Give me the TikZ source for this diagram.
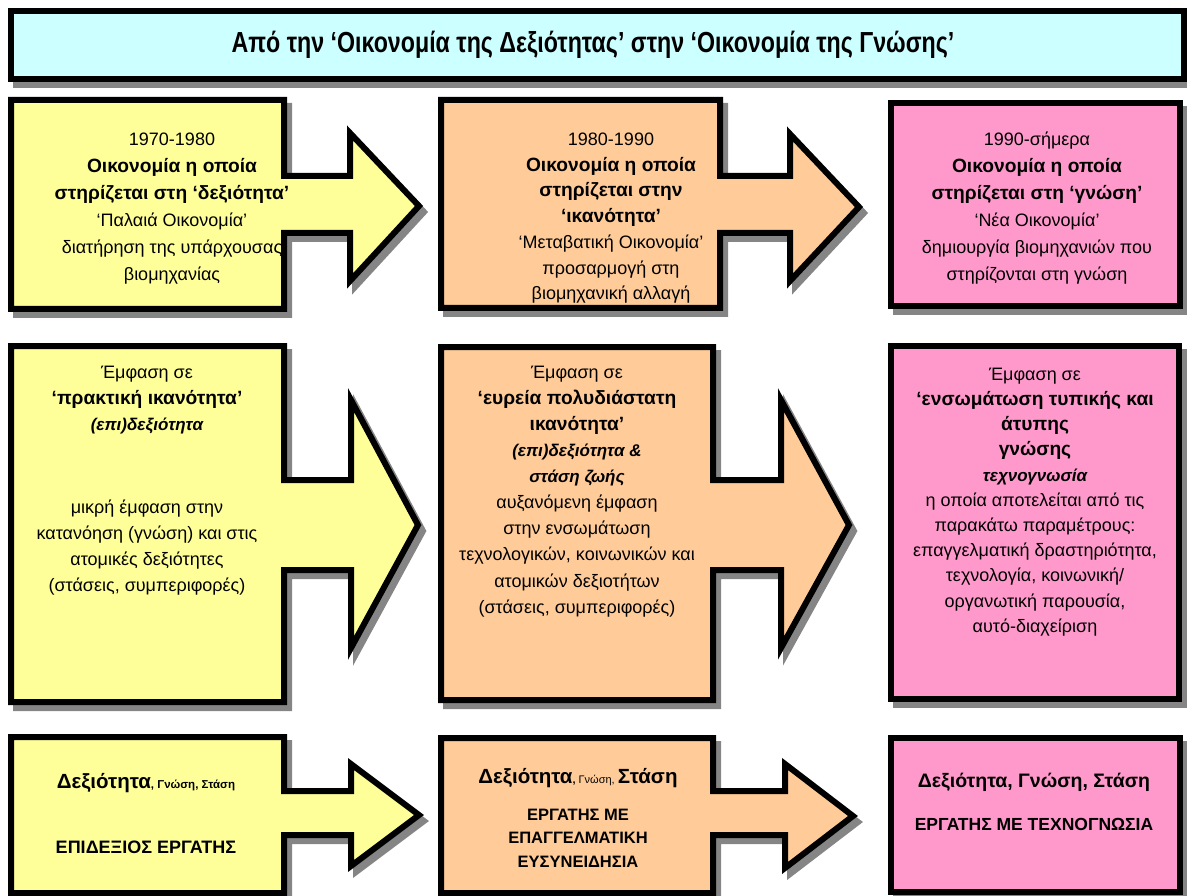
\documentclass[tikz,border=0pt]{standalone}
\usepackage{fontspec}
\setmainfont{Liberation Sans}
\newfontfamily\titlefont[FakeStretch=0.8]{Liberation Sans}
\usetikzlibrary{shadows}
\definecolor{cyanbg}{HTML}{CCFFFF}
\definecolor{yelbg}{HTML}{FFFF99}
\definecolor{orabg}{HTML}{FFCC99}
\definecolor{pinkbg}{HTML}{FF99CC}
\definecolor{shadowgray}{HTML}{858585}
\newcommand\bi[1]{{\bfseries\itshape\fontsize{17}{10}\selectfont #1}}
\newcommand\bt[1]{{\bfseries\fontsize{19.2}{10}\selectfont #1}}
\newcommand\fs[1]{\fontsize{#1}{10}\selectfont}
\begin{document}
\begin{tikzpicture}[x=1pt,y=-1pt,
  shp/.style={draw=black, line width=6pt, line join=miter, fill=#1,
    drop shadow={shadow xshift=5pt, shadow yshift=-6pt, opacity=1,
      fill=shadowgray, draw=shadowgray, line width=6pt}},
  txt/.style={inner sep=0pt, align=center, anchor=north},
]
\useasboundingbox (0,0) rectangle (1187,896);
% title
\path[shp=cyanbg] (11,11) rectangle (1184,79);
\node[inner sep=0pt, anchor=base, font=\titlefont\bfseries\fontsize{29}{30}\selectfont] (title) at (593,53)
  {Από την ‘Οικονομία της Δεξιότητας’ στην ‘Οικονομία της Γνώσης’};
% row 1
\path[shp=yelbg] (11,100) -- (284,100) -- (284,176) -- (350,176) -- (350,133) -- (419,206)
  -- (350,281) -- (350,233) -- (284,233) -- (284,309) -- (11,309) -- cycle;
\path[shp=orabg] (441,100) -- (720,100) -- (720,176) -- (790,176) -- (790,134) -- (859,207)
  -- (790,281) -- (790,233) -- (720,233) -- (720,308) -- (441,308) -- cycle;
\path[shp=pinkbg] (891,103) rectangle (1180,306);
% row 2
\path[shp=yelbg] (11,346) -- (284,346) -- (284,480) -- (351,480) -- (351,400) -- (418,525)
  -- (351,648) -- (351,570) -- (284,570) -- (284,702) -- (11,702) -- cycle;
\path[shp=orabg] (441,347) -- (713,347) -- (713,480) -- (781,480) -- (781,400) -- (849,525)
  -- (781,648) -- (781,570) -- (713,570) -- (713,700) -- (441,700) -- cycle;
\path[shp=pinkbg] (891,346) rectangle (1179,699);
% row 3
\path[shp=yelbg] (11,737) -- (284,737) -- (284,791) -- (351,791) -- (351,764) -- (419,815)
  -- (351,866) -- (351,835) -- (284,835) -- (284,893) -- (11,893) -- cycle;
\path[shp=orabg] (441,738) -- (713,738) -- (713,791) -- (785,791) -- (785,764) -- (853,816)
  -- (785,868) -- (785,835) -- (713,835) -- (713,893) -- (441,893) -- cycle;
\path[shp=pinkbg] (891,738) rectangle (1180,892);
% texts row 1
\node[txt, font=\fontsize{18}{27}\selectfont] (t11) at (172,125)
  {\rule{0pt}{20pt}1970-1980\\
   \bt{Οικονομία η οποία}\\
   \bt{στηρίζεται στη ‘δεξιότητα’}\\
   ‘Παλαιά Οικονομία’\\
   διατήρηση της υπάρχουσας\\
   βιομηχανίας};
\node[txt, font=\fontsize{18}{25.8}\selectfont] (t12) at (611,125)
  {\rule{0pt}{20pt}1980-1990\\
   \bt{Οικονομία η οποία}\\
   \bt{στηρίζεται στην}\\
   \bt{‘ικανότητα’}\\
   ‘Μεταβατική Οικονομία’\\
   προσαρμογή στη\\
   βιομηχανική αλλαγή};
\node[txt, font=\fontsize{18}{27}\selectfont] (t13) at (1037,125)
  {\rule{0pt}{20pt}1990-σήμερα\\
   \bt{Οικονομία η οποία}\\
   \bt{στηρίζεται στη ‘γνώση’}\\
   ‘Νέα Οικονομία’\\
   δημιουργία βιομηχανιών που\\
   στηρίζονται στη γνώση};
% texts row 2
\node[txt, font=\fontsize{18}{26}\selectfont] (t21) at (147,358)
  {\rule{0pt}{20pt}Έμφαση σε\\
   \bt{‘πρακτική ικανότητα’}\\
   \bi{(επι)δεξιότητα}\\[57pt]
   μικρή έμφαση στην\\
   κατανόηση (γνώση) και στις\\
   ατομικές δεξιότητες\\
   (στάσεις, συμπεριφορές)};
\node[txt, font=\fontsize{18}{26.1}\selectfont] (t22) at (577,358)
  {\rule{0pt}{20pt}Έμφαση σε\\
   \bt{‘ευρεία πολυδιάστατη}\\
   \bt{ικανότητα’}\\
   \bi{(επι)δεξιότητα \&}\\
   \bi{στάση ζωής}\\
   αυξανόμενη έμφαση\\
   στην ενσωμάτωση\\
   τεχνολογικών, κοινωνικών και\\
   ατομικών δεξιοτήτων\\
   (στάσεις, συμπεριφορές)};
\node[txt, font=\fontsize{18}{25.2}\selectfont] (t23) at (1035,360)
  {\rule{0pt}{20pt}Έμφαση σε\\
   \bt{‘ενσωμάτωση τυπικής και}\\
   \bt{άτυπης}\\
   \bt{γνώσης}\\
   \bi{τεχνογνωσία}\\
   η οποία αποτελείται από τις\\
   παρακάτω παραμέτρους:\\
   επαγγελματική δραστηριότητα,\\
   τεχνολογία, κοινωνική/\\
   οργανωτική παρουσία,\\
   αυτό-διαχείριση};
% texts row 3
\node[txt, font=\bfseries\fontsize{18}{65}\selectfont] (t31) at (146,768)
  {\rule{0pt}{20pt}{\fs{20.5}Δεξιότητα}{\fs{11.5}, Γνώση, Στάση}\\
   ΕΠΙΔΕΞΙΟΣ ΕΡΓΑΤΗΣ};
\node[txt, font=\bfseries\fontsize{16.5}{23.5}\selectfont] (t32) at (578,763)
  {\rule{0pt}{20pt}{\fs{20.5}Δεξιότητα}{\fs{11}, \mdseries Γνώση, }{\fs{20.5}Στάση}\\[13.5pt]
   ΕΡΓΑΤΗΣ ΜΕ\\
   ΕΠΑΓΓΕΛΜΑΤΙΚΗ\\
   ΕΥΣΥΝΕΙΔΗΣΙΑ};
\node[txt, font=\bfseries\fontsize{17.5}{43}\selectfont] (t33) at (1034,767)
  {\rule{0pt}{20pt}{\fs{19.5}Δεξιότητα, Γνώση, Στάση}\\
   ΕΡΓΑΤΗΣ ΜΕ ΤΕΧΝΟΓΝΩΣΙΑ};
\end{tikzpicture}
\end{document}
